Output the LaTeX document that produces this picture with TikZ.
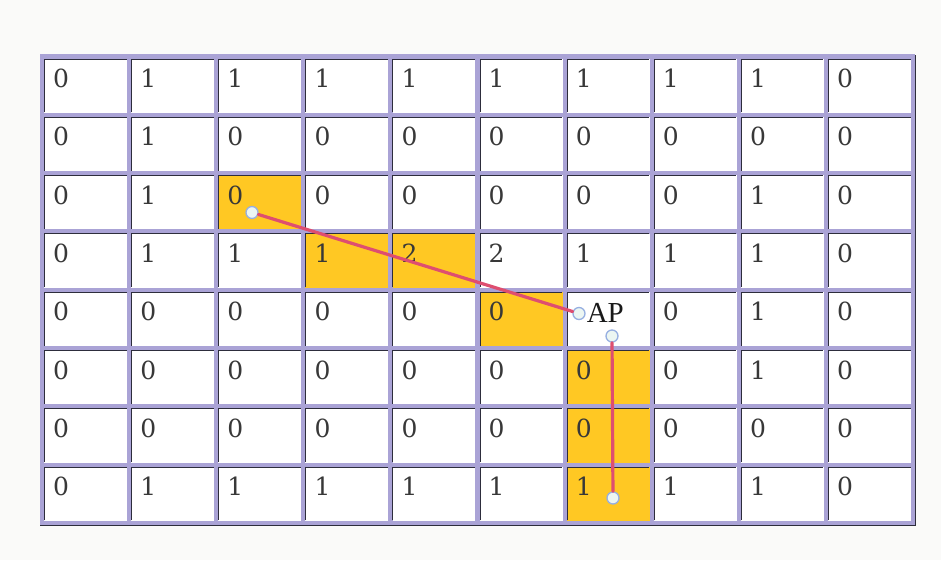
\documentclass[tikz,border=0pt]{standalone}
\usepackage{fontspec}
\newfontfamily\digitfont{DejaVu Serif}
\newfontfamily\apfont{Liberation Serif}
\definecolor{paper}{RGB}{250,250,249}
\definecolor{lav}{RGB}{170,163,214}
\definecolor{celldark}{RGB}{45,45,60}
\definecolor{gold}{RGB}{255,200,35}
\definecolor{route}{RGB}{222,78,112}
\definecolor{ringblue}{RGB}{150,175,225}
\definecolor{ringfill}{RGB}{236,246,242}
\tikzset{
  val/.style={anchor=base west, inner sep=0pt, font=\digitfont\fontsize{25}{28}\selectfont, text=black!78},
  aplabel/.style={anchor=base west, inner sep=0pt, font=\apfont\fontsize{29}{32}\selectfont, text=black!90},
  ring/.style={circle, draw=ringblue, fill=ringfill, line width=1.3pt, minimum size=12pt, inner sep=0pt},
  routeline/.style={draw=route, line width=3.2pt, line cap=round},
  lavline/.style={draw=lav, line width=4.2pt},
  darkline/.style={draw=celldark, line width=1pt}
}
\begin{document}
\begin{tikzpicture}[x=1pt,y=-1pt]
\useasboundingbox (0,0) rectangle (941,560);
\fill[paper] (0,0) rectangle (941,560);
% cells
\def\cw{87.1}\def\ch{58.3}\def\gx{42}\def\gy{56.5}
\fill[white] (\gx,\gy) rectangle ({\gx+10*\cw},{\gy+8*\ch});
\foreach \r/\c in {2/2,3/3,3/4,4/5,5/6,6/6,7/6}{
  \fill[gold] ({\gx+\c*\cw},{\gy+\r*\ch}) rectangle ({\gx+(\c+1)*\cw},{\gy+(\r+1)*\ch});
}
% lavender grid
\foreach \c in {0,...,10}{
  \draw[lavline] ({\gx+\c*\cw},{\gy-2}) -- ({\gx+\c*\cw},{\gy+8*\ch+2});
}
\foreach \r in {0,...,8}{
  \draw[lavline] ({\gx-2},{\gy+\r*\ch}) -- ({\gx+10*\cw+2},{\gy+\r*\ch});
}
% dark inner top/left edges of each cell
\foreach \r in {0,...,7}{
  \foreach \c in {0,...,9}{
    \draw[darkline] ({\gx+\c*\cw+2.5},{\gy+(\r+1)*\ch-2.5}) -- ({\gx+\c*\cw+2.5},{\gy+\r*\ch+2.5}) -- ({\gx+(\c+1)*\cw-2.5},{\gy+\r*\ch+2.5});
  }
}
% outer dark right/bottom edge
\draw[darkline, line width=1.4pt] ({\gx-2},{\gy+8*\ch+2.5}) -- ({\gx+10*\cw+2.5},{\gy+8*\ch+2.5}) -- ({\gx+10*\cw+2.5},{\gy-2});
% values
\def\skipmark{-}
\foreach \rowdata [count=\r from 0] in {
  {0,1,1,1,1,1,1,1,1,0},
  {0,1,0,0,0,0,0,0,0,0},
  {0,1,0,0,0,0,0,0,1,0},
  {0,1,1,1,2,2,1,1,1,0},
  {0,0,0,0,0,0,-,0,1,0},
  {0,0,0,0,0,0,0,0,1,0},
  {0,0,0,0,0,0,0,0,0,0},
  {0,1,1,1,1,1,1,1,1,0}}{
  \foreach \v [count=\c from 0] in \rowdata {
    \edef\curval{\v}
    \ifx\curval\skipmark\else
      \node[val] (v-\r-\c) at ({\gx+\c*\cw+11},{\gy+\r*\ch+31}) {\v};
    \fi
  }
}
\node[aplabel] (ap) at ({\gx+6*\cw+22},{\gy+4*\ch+33}) {AP};
% route points
\node[ring] (p1) at (252,212.5) {};
\node[ring] (p2) at (579,313.5) {};
\node[ring] (p3) at (612,336) {};
\node[ring] (p4) at (613,498) {};
\draw[routeline] (p1) -- (p2);
\draw[routeline] (p3) -- (p4);
\end{tikzpicture}
\end{document}
